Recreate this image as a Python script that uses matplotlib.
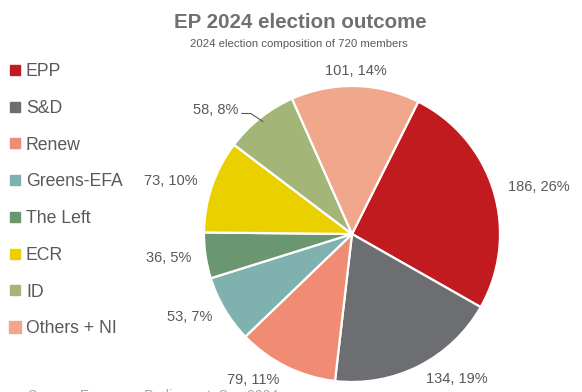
import matplotlib.pyplot as plt
from matplotlib.lines import Line2D
import numpy as np

# --- DADOS ---
parties = ['EPP', 'S&D', 'Renew', 'Greens-EFA', 'The Left', 'ECR', 'ID', 'Others + NI']
seats = [186, 134, 79, 53, 36, 73, 58, 101]
colors = ['#C11B1F', '#6D6E71', '#F08B74', '#7FB2AF', '#6A9670', '#EBD000', '#A3B677', '#F0A78B']

TITLE = 'EP 2024 election outcome'
SUBTITLE = '2024 election composition of 720 members'
SOURCE = 'Source: European Parliament, Sep 2024'

TEXT_GRAY = '#595959'
plt.rcParams['font.family'] = ['Liberation Sans', 'DejaVu Sans']

W, H = 582, 392
fig = plt.figure(figsize=(W / 100, H / 100), dpi=100)

# eixo da pizza: centro (352, 234) px, raio 148 px
cx, cy, r = 352, 234, 148
ax = fig.add_axes([(cx - r) / W, (H - cy - r) / H, 2 * r / W, 2 * r / H])

total = sum(seats)
labels = [f'{s}, {round(100 * s / total)}%' for s in seats]

wedges, texts = ax.pie(seats, colors=colors, labels=labels, startangle=63.4, counterclock=False,
                       labeldistance=1.1, radius=1.0,
                       wedgeprops=dict(edgecolor='white', linewidth=1.6),
                       textprops=dict(color=TEXT_GRAY, fontsize=10.5))
ax.set_xlim(-1, 1)
ax.set_ylim(-1, 1)
ax.set_aspect('equal')
ax.axis('off')

# rótulo do topo (Others + NI) centralizado
texts[parties.index('Others + NI')].set_ha('center')

# rótulo do ID com linha de chamada (cotovelo + trecho horizontal)
i = parties.index('ID')
w = wedges[i]
ang = np.deg2rad((w.theta1 + w.theta2) / 2)
p0 = np.array([0.97 * np.cos(ang), 0.97 * np.sin(ang)])
p1 = p0 + np.array([-0.081, 0.054])
p2 = p1 + np.array([-0.061, 0.0])
ax.plot([p0[0], p1[0], p2[0]], [p0[1], p1[1], p2[1]], color=TEXT_GRAY, lw=0.8, clip_on=False)
texts[i].set_position((p2[0] - 0.02, p2[1] - 0.005))
texts[i].set_ha('right')
texts[i].set_va('baseline')

fig.text(300 / W, 1 - 22 / H, TITLE, ha='center', va='center', fontsize=14.8,
         fontweight='bold', color='#707070')
fig.text(299 / W, 1 - 44 / H, SUBTITLE, ha='center', va='center', fontsize=8.2, color=TEXT_GRAY)

handles = []
for name, c in zip(parties, colors):
    ms = 9 if name == 'Others + NI' else 7
    handles.append(Line2D([], [], marker='s', linestyle='none', markersize=ms,
                          markerfacecolor=c, markeredgecolor=c, label=name))
fig.legend(handles=handles, loc='upper left', bbox_to_anchor=(10 / W, 1 - 63 / H), frameon=False,
           fontsize=12.7, labelcolor=TEXT_GRAY, handlelength=0.6, handletextpad=0.3,
           labelspacing=1.12, borderpad=0, borderaxespad=0)

fig.text(28 / W, 3 / H, SOURCE, ha='left', va='top', fontsize=10, color='#A6A6A6')

fig.savefig('out.png', dpi=100)
